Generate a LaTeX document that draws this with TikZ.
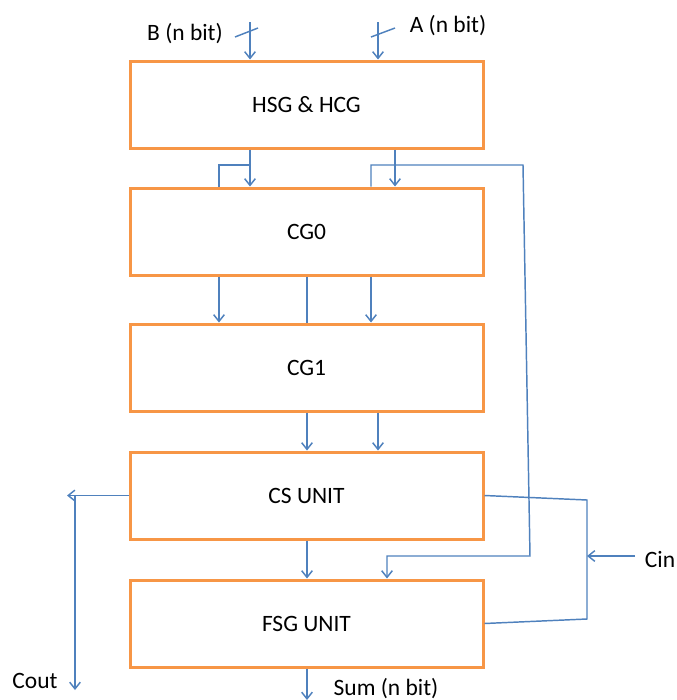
\documentclass[tikz,border=0pt]{standalone}
\usepackage{fontspec}
\setmainfont{Carlito}
\usetikzlibrary{arrows.meta,calc}
\definecolor{boxorange}{RGB}{247,150,70}
\definecolor{wireblue}{RGB}{79,129,189}
\tikzset{
  unit/.style={draw=boxorange, line width=2.25pt, minimum width=264.75pt,
    minimum height=65.25pt, font=\fontsize{17.6}{21}\selectfont},
  wire/.style={draw=wireblue, line width=1.1pt},
  sig/.style={wire, -{Straight Barb[length=5pt,width=8pt]}},
  lbl/.style={anchor=base, font=\fontsize{17.6}{21}\selectfont}
}
\begin{document}
\begin{tikzpicture}[x=0.75pt,y=-0.75pt]
  \useasboundingbox (0,0) rectangle (676,700);

  \node[unit] (hsg) at (306.5,104.5) {HSG \& HCG};
  \node[unit] (cg0) at (306.5,231.5) {CG0};
  \node[unit] (cg1) at (306.5,367.5) {CG1};
  \node[unit] (cs)  at (306.5,495.5) {CS UNIT};
  \node[unit] (fsg) at (306.5,623.5) {FSG UNIT};

  \coordinate (colA) at (219,0);
  \coordinate (colB) at (250,0);
  \coordinate (colC) at (307,0);
  \coordinate (colD) at (371,0);
  \coordinate (colE) at (378,0);
  \coordinate (colF) at (387,0);
  \coordinate (colG) at (395,0);

  \coordinate (bin) at (250,22);
  \coordinate (ain) at (378,22);
  \draw[sig] (bin) -- (hsg.north -| bin);
  \draw[sig] (ain) -- (hsg.north -| ain);
  \foreach \p/\a/\b in {bin/-15/8, ain/-7/17}
    \draw[wire] ($(\p)+(\a,15)$) -- ($(\p)+(\b,6)$);
  \node[lbl] (blbl) at (185,40) {B (n bit)};
  \node[lbl] (albl) at (448,32) {A (n bit)};

  \coordinate (lsplit) at (250,165);
  \coordinate (rsplit) at (395,165);
  \coordinate (bypass1) at (523,165);
  \coordinate (bypass2) at (530,556);
  \draw[sig] (hsg.south -| colB) -- (cg0.north -| colB);
  \draw[wire] (lsplit) -| (cg0.north -| colA);
  \draw[sig] (hsg.south -| colG) -- (cg0.north -| colG);
  \draw[sig] (cg0.north -| colD) |- (bypass1) -- (bypass2) -| (fsg.north -| colF);

  \foreach \c in {colA, colD}
    \draw[sig] (cg0.south -| \c) -- (cg1.north -| \c);
  \draw[wire] (cg0.south -| colC) -- (cg1.north -| colC);

  \foreach \c in {colC, colE}
    \draw[sig] (cg1.south -| \c) -- (cs.north -| \c);
  \draw[sig] (cs.south -| colC) -- (fsg.north -| colC);

  \coordinate (coutarr) at (67,0);
  \coordinate (coutbus) at (75,0);
  \coordinate (coutend) at (75,690);
  \draw[sig] (cs.west) -- (cs.west -| coutarr);
  \draw[sig] (cs.west -| coutbus) -- (coutend);
  \node[lbl] (coutlbl) at (35,688) {Cout};

  \coordinate (cintop) at (587,500);
  \coordinate (cinbot) at (587,619);
  \coordinate (cinsrc) at (635,556);
  \draw[wire] (cs.east) -- (cintop) -- (cinbot) -- (fsg.east);
  \draw[sig] (cinsrc) -- (cinsrc -| cintop);
  \node[lbl] (cinlbl) at (660,567) {Cin};

  \coordinate (sumend) at (307,700);
  \draw[sig] (fsg.south -| colC) -- (sumend);
  \node[lbl] (sumlbl) at (386,695) {Sum (n bit)};
\end{tikzpicture}
\end{document}
